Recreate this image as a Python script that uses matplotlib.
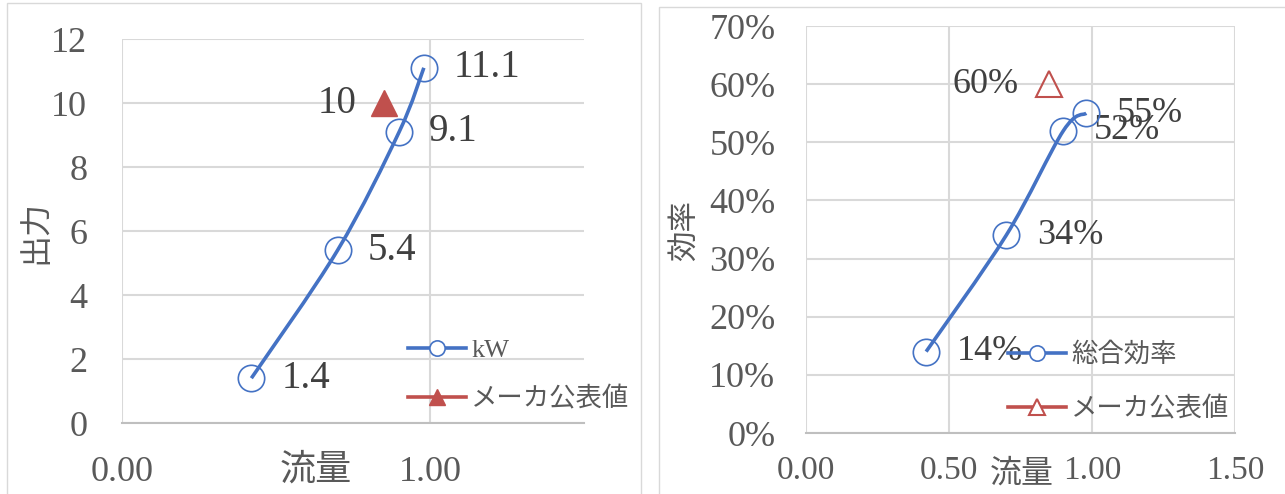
import numpy as np
import matplotlib.pyplot as plt
from matplotlib.path import Path
from matplotlib.patches import PathPatch, Rectangle
from matplotlib.lines import Line2D
from matplotlib.ticker import FuncFormatter

# データ
flow = [0.42, 0.70, 0.90, 0.98]
power_kw = [1.4, 5.4, 9.1, 11.1]
efficiency = [0.14, 0.34, 0.52, 0.55]
maker_flow = [0.85]
maker_power = [10]
maker_eff = [0.60]

BLUE = '#4472C4'
RED = '#C0504D'
GRID = '#D9D9D9'
TXT = '#595959'
LBL = '#404040'
SERIF = ['Liberation Serif', 'Noto Sans CJK JP']
JP = ['Noto Sans CJK JP']

plt.rcParams['font.family'] = SERIF


def smooth_path(x, y):
    # Excel の「スムージング」風のベジェ曲線
    p = np.column_stack([x, y]).astype(float)
    ext = np.vstack([p[0], p, p[-1]])
    verts = [p[0]]
    codes = [Path.MOVETO]
    for i in range(len(p) - 1):
        c1 = ext[i + 1] + (ext[i + 2] - ext[i]) / 6
        c2 = ext[i + 2] - (ext[i + 3] - ext[i + 1]) / 6
        verts += [c1, c2, p[i + 1]]
        codes += [Path.CURVE4] * 3
    return Path(verts, codes)


def style(ax):
    for s in ['top', 'right', 'left']:
        ax.spines[s].set_visible(False)
    ax.spines['bottom'].set_color('#BFBFBF')
    ax.spines['bottom'].set_linewidth(1.5)
    ax.grid(True, color=GRID, lw=1.5)
    ax.set_axisbelow(True)
    ax.tick_params(length=0, colors=TXT, labelsize=26)


fig = plt.figure(figsize=(12.85, 4.94), dpi=100)
W, H = 1285, 494

# パネル枠
fig.patches.append(Rectangle((7 / W, -0.01), (641 - 7) / W, 1.01 - 3 / H,
                             transform=fig.transFigure, fill=False, ec=GRID, lw=1))
fig.patches.append(Rectangle((659 / W, -0.01), 0.5, 1.01 - 7 / H,
                             transform=fig.transFigure, fill=False, ec=GRID, lw=1))

# ---- 左: 出力 ----
ax1 = fig.add_axes([122 / W, 1 - 423 / H, 462 / W, 384 / H])
style(ax1)
ax1.set_xlim(0, 1.5)
ax1.set_ylim(0, 12)
ax1.set_xticks([0, 1])
ax1.set_yticks(range(0, 13, 2))
ax1.xaxis.set_major_formatter(FuncFormatter(lambda v, p: f'{v:.2f}'))
ax1.yaxis.set_major_formatter(FuncFormatter(lambda v, p: f'{v:.0f}'))
ax1.tick_params(axis='x', pad=24)
ax1.tick_params(axis='y', pad=25)

ax1.add_patch(PathPatch(smooth_path(flow, power_kw), fill=False, ec=BLUE, lw=2.6, zorder=3))
ax1.plot(flow, power_kw, ls='none', marker='o', ms=19, mfc='none', mec=BLUE, mew=1.2, zorder=4)
ax1.plot(maker_flow, maker_power, ls='none', marker='^', ms=19, mfc=RED, mec=RED, zorder=4)
for x, y in zip(flow, power_kw):
    ax1.annotate(f'{y:g}', (x, y), xytext=(21.5, 0), textcoords='offset points',
                 ha='left', va='center', fontsize=28, color=LBL)
for x, y in zip(maker_flow, maker_power):
    ax1.annotate(f'{y:g}', (x, y), xytext=(-20, 0), textcoords='offset points',
                 ha='right', va='center', fontsize=28, color=LBL)

ax1.set_xlabel('流量', fontsize=26, color=TXT, family=JP)
ax1.xaxis.set_label_coords((316 - 122) / 462, (423 - 470) / 384)
ax1.xaxis.label.set_va('center')
ax1.set_ylabel('出力', fontsize=23, color=TXT, family=JP)
ax1.yaxis.set_label_coords((35 - 122) / 462, (423 - 232) / 384)
ax1.yaxis.label.set_va('center')

h1 = Line2D([], [], color=BLUE, lw=2.6, marker='o', ms=11, mfc='white', mec=BLUE, mew=1.2)
h2 = Line2D([], [], color=RED, lw=2.6, marker='^', ms=12, mfc=RED, mec=RED)
ax1.legend([h1, h2], ['kW', 'メーカ公表値'], loc='center left', bbox_to_anchor=(0.619, 0.125),
           frameon=False, fontsize=19, handlelength=2.2, handletextpad=0.2,
           borderpad=0, borderaxespad=0, labelspacing=0.9, labelcolor=TXT)

# ---- 右: 効率 ----
ax2 = fig.add_axes([806 / W, 1 - 433 / H, 429 / W, 407 / H])
style(ax2)
ax2.set_xlim(0, 1.5)
ax2.set_ylim(0, 0.7)
ax2.set_xticks([0, 0.5, 1.0, 1.5])
ax2.set_yticks(np.arange(0, 0.71, 0.1))
ax2.xaxis.set_major_formatter(FuncFormatter(lambda v, p: f'{v:.2f}'))
ax2.yaxis.set_major_formatter(FuncFormatter(lambda v, p: f'{v:.0%}'))
ax2.tick_params(axis='x', pad=16, labelsize=24)
ax2.tick_params(axis='y', pad=22)

ax2.add_patch(PathPatch(smooth_path(flow, efficiency), fill=False, ec=BLUE, lw=2.6, zorder=3))
ax2.plot(flow, efficiency, ls='none', marker='o', ms=19, mfc='none', mec=BLUE, mew=1.2, zorder=4)
ax2.plot(maker_flow, maker_eff, ls='none', marker='^', ms=19, mfc='none', mec=RED, mew=1.5, zorder=4)
for x, y in zip(flow, efficiency):
    ax2.annotate(f'{y:.0%}', (x, y), xytext=(22, 0), textcoords='offset points',
                 ha='left', va='center', fontsize=26, color=LBL)
for x, y in zip(maker_flow, maker_eff):
    ax2.annotate(f'{y:.0%}', (x, y), xytext=(-22, 0), textcoords='offset points',
                 ha='right', va='center', fontsize=26, color=LBL)

ax2.set_xlabel('流量', fontsize=23, color=TXT, family=JP)
ax2.xaxis.set_label_coords((1022 - 806) / 429, (433 - 474) / 407)
ax2.xaxis.label.set_va('center')
ax2.set_ylabel('効率', fontsize=22, color=TXT, family=JP)
ax2.yaxis.set_label_coords((685 - 806) / 429, (433 - 230) / 407)
ax2.yaxis.label.set_va('center')

h3 = Line2D([], [], color=BLUE, lw=2.6, marker='o', ms=11, mfc='white', mec=BLUE, mew=1.2)
h4 = Line2D([], [], color=RED, lw=2.6, marker='^', ms=12, mfc='white', mec=RED, mew=1.5)
ax2.legend([h3, h4], ['総合効率', 'メーカ公表値'], loc='center left', bbox_to_anchor=(0.471, 0.1265),
           frameon=False, fontsize=19, handlelength=2.2, handletextpad=0.2,
           borderpad=0, borderaxespad=0, labelspacing=1.1, labelcolor=TXT)

fig.savefig('out.png', dpi=100)
